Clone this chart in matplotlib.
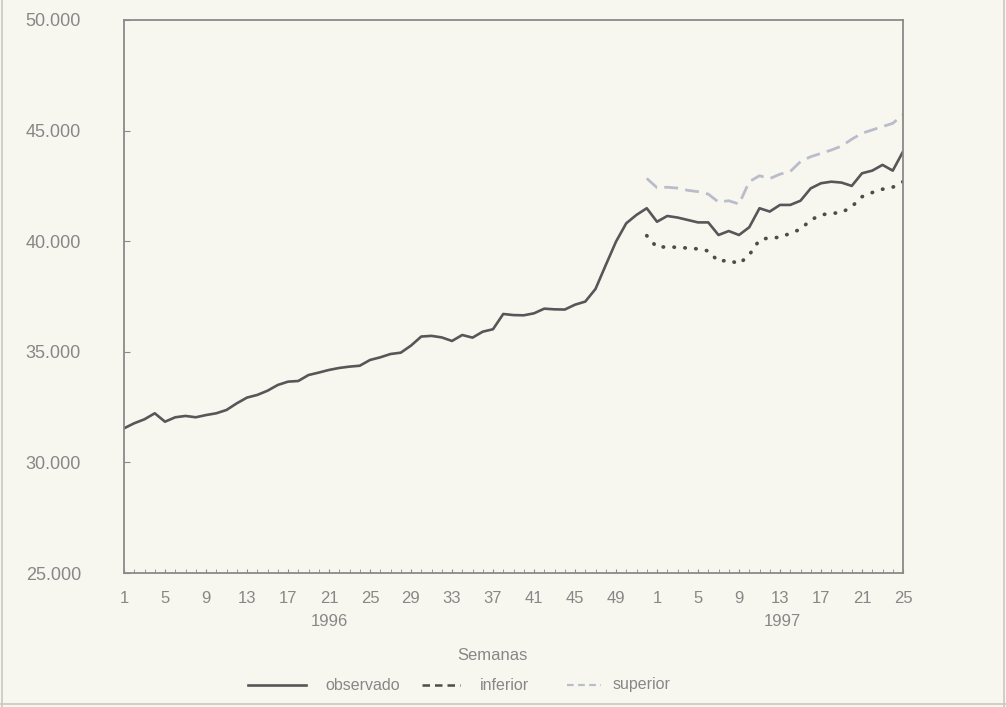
import matplotlib
matplotlib.use("Agg")
import matplotlib.pyplot as plt
from matplotlib.lines import Line2D
from matplotlib.ticker import FuncFormatter, FixedLocator

plt.rcParams['font.family'] = ['Liberation Sans', 'DejaVu Sans']

# semanas 1996 (52) + 1997 (25)
semanas_1996 = list(range(1, 53))
semanas_1997 = list(range(1, 26))

observado = [31540, 31770, 31950, 32220, 31840, 32040, 32100, 32040, 32140, 32220,
             32370, 32670, 32930, 33050, 33240, 33500, 33650, 33680, 33950, 34060,
             34180, 34270, 34330, 34370, 34630, 34750, 34900, 34960, 35280, 35690,
             35720, 35650, 35490, 35760, 35640, 35910, 36020, 36710, 36660, 36650,
             36740, 36950, 36920, 36910, 37130, 37270, 37840, 38920, 39980, 40810,
             41190, 41490,
             40880, 41140, 41070, 40960, 40850, 40850, 40280, 40460, 40280, 40630,
             41490, 41340, 41640, 41640, 41830, 42390, 42620, 42690, 42650, 42500,
             43070, 43190, 43450, 43190, 44050]

# bandas de prediccion: desde la ultima semana de 1996
inferior = [40250, 39720, 39750, 39720, 39690, 39650, 39560, 39080, 39150, 38970,
            39380, 40060, 40160, 40170, 40360, 40540, 40960, 41190, 41260, 41290,
            41560, 42010, 42200, 42350, 42440, 42690]
superior = [42840, 42420, 42440, 42400, 42300, 42240, 42130, 41770, 41830, 41680,
            42690, 42960, 42830, 43030, 43150, 43600, 43820, 43970, 44120, 44300,
            44610, 44880, 45030, 45180, 45330, 45710]

etiquetas_1996 = [1, 5, 9, 13, 17, 21, 25, 29, 33, 37, 41, 45, 49]
etiquetas_1997 = [1, 5, 9, 13, 17, 21, 25]

fondo = '#f8f7ef'
gris_txt = '#878787'
fs = 12

x_obs = list(range(len(semanas_1996) + len(semanas_1997)))
inicio = len(semanas_1996) - 1
x_pred = list(range(inicio, inicio + len(inferior)))

fig = plt.figure(figsize=(10.06, 7.07), dpi=100)
fig.patch.set_facecolor(fondo)
ax = fig.add_axes([124/1006, 1-573/707, (903-124)/1006, (573-20)/707])
ax.set_facecolor(fondo)

ax.plot(x_obs, observado, color='#575658', lw=1.9, solid_joinstyle='round')
ax.plot(x_pred, inferior, color='#4c4c4c', lw=2.7, linestyle=(0, (0.1, 2.8)),
        dash_capstyle='round')
ax.plot(x_pred, superior, color='#b9bdcb', lw=2.0, linestyle=(0, (5, 2.6)))

ax.set_xlim(0, x_obs[-1])
ax.set_ylim(25000, 50000)

# ticks
pos_1996 = [s - 1 for s in etiquetas_1996]
pos_1997 = [len(semanas_1996) + s - 1 for s in etiquetas_1997]
ax.xaxis.set_major_locator(FixedLocator(pos_1996 + pos_1997))
ax.set_xticklabels([str(s) for s in etiquetas_1996 + etiquetas_1997], fontsize=fs)
ax.xaxis.set_minor_locator(FixedLocator(x_obs))
ax.tick_params(axis='x', which='both', direction='in', length=3, color='#8a8a8a',
               labelcolor=gris_txt, pad=13)

ax.set_yticks([25000, 30000, 35000, 40000, 45000, 50000])
ax.yaxis.set_major_formatter(FuncFormatter(lambda v, p: f'{int(v):,}'.replace(',', '.')))
ax.tick_params(axis='y', direction='in', length=4, color='#8a8a8a',
               labelcolor=gris_txt, pad=31, labelsize=13)

for sp in ax.spines.values():
    sp.set_color('#8a8a8a')
    sp.set_linewidth(1.3)

fig.text(329/1006, 1-622/707, '1996', ha='center', va='center', color=gris_txt, fontsize=fs)
fig.text(782/1006, 1-622/707, '1997', ha='center', va='center', color=gris_txt, fontsize=fs)
fig.text(492/1006, 1-655/707, 'Semanas', ha='center', va='center', color=gris_txt, fontsize=fs)

# leyenda hecha a mano
yl = 1-685/707
fig.add_artist(Line2D([248/1006, 306/1006], [yl, yl], transform=fig.transFigure,
                      color='#575658', lw=1.9))
fig.add_artist(Line2D([422/1006, 460/1006], [yl, yl], transform=fig.transFigure,
                      color='#4c4c4c', lw=1.8, linestyle=(0, (3, 2))))
fig.add_artist(Line2D([567/1006, 601/1006], [yl, yl], transform=fig.transFigure,
                      color='#b9bdcb', lw=1.6, linestyle=(0, (3, 2))))
for xt, txt in [(325, 'observado'), (480, 'inferior'), (613, 'superior')]:
    fig.text(xt/1006, yl, txt, ha='left', va='center', color=gris_txt, fontsize=11.5)

# borde de la hoja
for xs, ys in [([0.002, 0.002], [0, 1]), ([0.998, 0.998], [0, 1]), ([0, 1], [0.004, 0.004])]:
    fig.add_artist(Line2D(xs, ys, transform=fig.transFigure, color='#c9c9c2', lw=1.2))

plt.savefig('out.png', dpi=100, facecolor=fondo)
